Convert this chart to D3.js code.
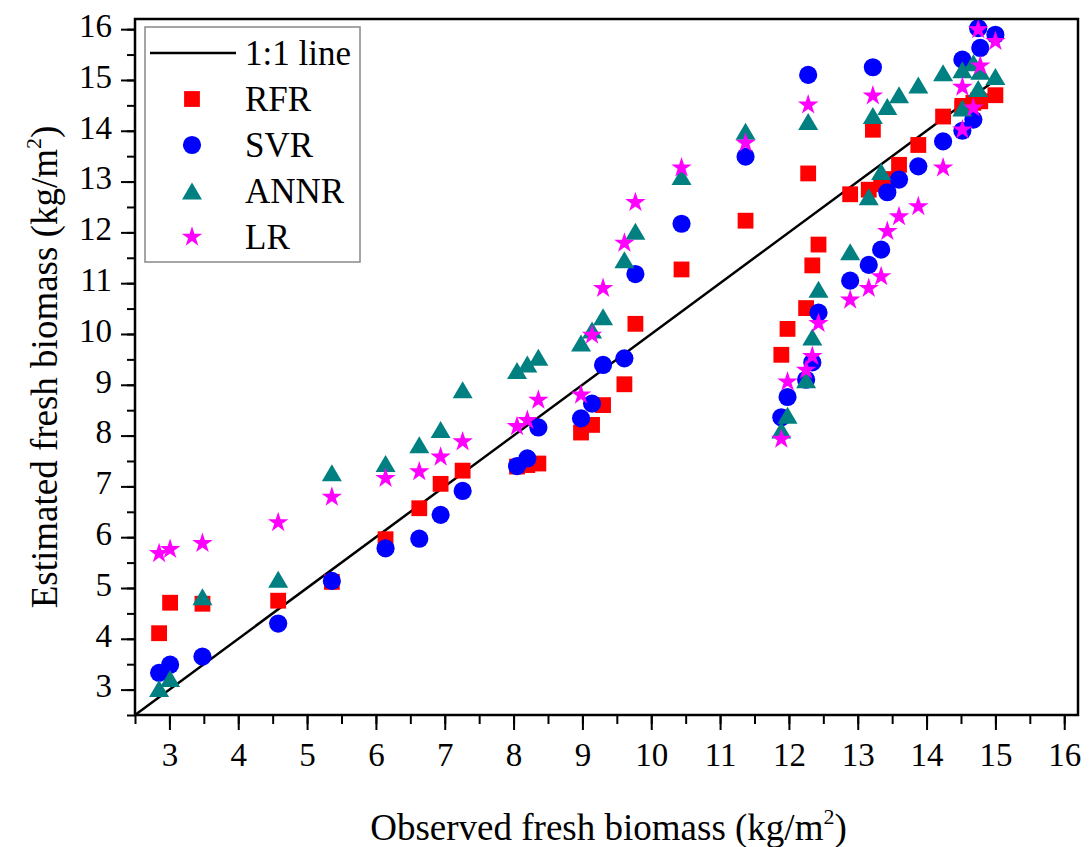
<!DOCTYPE html>
<html>
<head>
<meta charset="utf-8">
<script src="https://cdn.jsdelivr.net/npm/d3@7"></script>
<style>
  body { margin: 0; background: #fff; }
</style>
</head>
<body>
<div id="chart"></div>
<script>
// observed values (shared by all models)
const observed = [2.85, 3.01, 3.48, 4.58, 5.36, 6.14, 6.63, 6.94, 7.26, 8.05, 8.2, 8.36, 8.98, 9.14, 9.3, 9.61, 9.77, 10.44, 11.37,
  11.89, 11.98, 12.25, 12.28, 12.34, 12.43, 12.89, 13.16, 13.22, 13.34, 13.43, 13.6, 13.88, 14.24, 14.52, 14.52, 14.68, 14.75, 14.78, 15.0];

const rfr = [4.11, 4.71, 4.69, 4.75, 5.12, 5.96, 6.57, 7.05, 7.31, 7.39, 7.42, 7.45, 8.06, 8.21, 8.6, 9.01, 10.2, 11.27, 12.23,
  9.59, 10.1, 10.51, 13.16, 11.35, 11.76, 12.75, 12.84, 14.02, 12.95, 13.05, 13.33, 13.72, 14.28, 14.49, 14.45, 14.55, 14.6, 14.58, 14.7];
const svr = [3.33, 3.49, 3.65, 4.3, 5.14, 5.78, 5.97, 6.44, 6.91, 7.4, 7.55, 8.16, 8.34, 8.63, 9.39, 9.52, 11.18, 12.17, 13.49,
  8.36, 8.76, 9.1, 15.1, 9.44, 10.42, 11.05, 11.36, 15.25, 11.66, 12.79, 13.04, 13.3, 13.79, 14.0, 15.4, 14.22, 16.02, 15.63, 15.89];
const annr = [3.02, 3.22, 4.83, 5.17, 7.27, 7.45, 7.82, 8.12, 8.9, 9.28, 9.41, 9.54, 9.82, 10.08, 10.34, 11.46, 12.02, 13.1, 13.99,
  8.11, 8.4, 9.1, 14.18, 9.94, 10.88, 11.62, 12.7, 14.3, 13.2, 14.48, 14.71, 14.9, 15.14, 14.45, 15.2, 15.34, 14.83, 15.17, 15.07];
const lr = [5.68, 5.76, 5.88, 6.29, 6.79, 7.16, 7.29, 7.58, 7.88, 8.18, 8.3, 8.7, 8.8, 9.98, 10.9, 11.79, 12.59, 13.27, 13.76,
  7.93, 9.06, 9.29, 14.51, 9.56, 10.21, 10.67, 10.9, 14.69, 11.13, 12.02, 12.31, 12.51, 13.27, 14.02, 14.86, 14.45, 15.99, 15.28, 15.76];

const majorTicks = d3.range(3, 17, 1);
const minorTicks = d3.range(2.5, 16.01, 0.5);
const lineExtent = [2.5, 15];

const width = 1091, height = 847;
const margin = { top: 19, right: 13, bottom: 132, left: 135 };
const serif = '"Liberation Serif", "Times New Roman", serif';

const x = d3.scaleLinear().domain([2.5, 16.2]).range([margin.left, width - margin.right]);
const y = d3.scaleLinear().domain([2.5, 16.2]).range([height - margin.bottom, margin.top]);

// custom triangle, centred on its bounding box
const triPath = "M0,-8.5L10,8.5L-10,8.5Z";
const shapes = {
  square: d3.symbol(d3.symbolSquare, 250)(),
  circle: d3.symbol(d3.symbolCircle, 260)(),
  triangle: triPath,
  star: d3.symbol(d3.symbolStar, 130)()
};

const series = [
  { name: "RFR", values: rfr, color: "#ff0000", shape: "square" },
  { name: "SVR", values: svr, color: "#0000ff", shape: "circle" },
  { name: "ANNR", values: annr, color: "#008080", shape: "triangle" },
  { name: "LR", values: lr, color: "#ff00ff", shape: "star" }
];

const svg = d3.select("#chart").append("svg")
  .attr("width", width)
  .attr("height", height)
  .style("font-family", serif);

// 1:1 line
svg.append("line")
  .attr("x1", x(lineExtent[0])).attr("y1", y(lineExtent[0]))
  .attr("x2", x(lineExtent[1])).attr("y2", y(lineExtent[1]))
  .attr("stroke", "#000").attr("stroke-width", 2.5);

// points
series.forEach(s => {
  svg.append("g")
    .selectAll("path")
    .data(observed.map((o, i) => [o, s.values[i]]))
    .join("path")
    .attr("d", shapes[s.shape])
    .attr("transform", d => `translate(${x(d[0])},${y(d[1])})`)
    .attr("fill", s.color);
});

// axes
const xMinor = svg.append("g")
  .attr("transform", `translate(0,${y(2.5)})`)
  .call(d3.axisBottom(x).tickValues(minorTicks).tickSize(9).tickFormat(""));
const xMajor = svg.append("g")
  .attr("transform", `translate(0,${y(2.5)})`)
  .call(d3.axisBottom(x).tickValues(majorTicks).tickSize(15).tickPadding(13).tickFormat(d3.format("d")));
const yMinor = svg.append("g")
  .attr("transform", `translate(${x(2.5)},0)`)
  .call(d3.axisLeft(y).tickValues(minorTicks).tickSize(8).tickFormat(""));
const yMajor = svg.append("g")
  .attr("transform", `translate(${x(2.5)},0)`)
  .call(d3.axisLeft(y).tickValues(majorTicks).tickSize(14).tickPadding(9).tickFormat(d3.format("d")));

[xMinor, xMajor, yMinor, yMajor].forEach(g => {
  g.attr("font-family", null);
  g.select(".domain").remove();
  g.selectAll(".tick line").attr("stroke", "#000").attr("stroke-width", 2);
  g.selectAll(".tick text")
    .attr("font-size", 33)
    .attr("fill", "#000");
});
yMajor.selectAll(".tick text").attr("dy", "0.22em");

// frame
svg.append("rect")
  .attr("x", x(2.5)).attr("y", y(16.2))
  .attr("width", x(16.2) - x(2.5)).attr("height", y(2.5) - y(16.2))
  .attr("fill", "none").attr("stroke", "#000").attr("stroke-width", 2.5);

// axis titles
const xTitle = svg.append("text")
  .attr("x", (x(2.5) + x(16.2)) / 2 + 2)
  .attr("y", 840)
  .attr("text-anchor", "middle")
  .attr("font-size", 37);
xTitle.append("tspan").text("Observed fresh biomass (kg/m");
xTitle.append("tspan").attr("font-size", 22).attr("dy", -16).text("2");
xTitle.append("tspan").attr("dy", 16).text(")");

const yTitle = svg.append("text")
  .attr("transform", `translate(57,${(y(2.5) + y(16.2)) / 2}) rotate(-90)`)
  .attr("text-anchor", "middle")
  .attr("font-size", 37);
yTitle.append("tspan").text("Estimated fresh biomass (kg/m");
yTitle.append("tspan").attr("font-size", 22).attr("dy", -16).text("2");
yTitle.append("tspan").attr("dy", 16).text(")");

// legend
const legend = svg.append("g");
legend.append("rect")
  .attr("x", 145).attr("y", 27).attr("width", 215).attr("height", 235)
  .attr("fill", "#fff").attr("stroke", "#888").attr("stroke-width", 1.5);

const legendItems = [{ name: "1:1 line", shape: "line" }].concat(series);
legendItems.forEach((s, i) => {
  const cy = 53 + i * 46;
  if (s.shape === "line") {
    legend.append("line")
      .attr("x1", 150).attr("x2", 236).attr("y1", cy).attr("y2", cy)
      .attr("stroke", "#000").attr("stroke-width", 2.5);
  } else {
    legend.append("path")
      .attr("d", shapes[s.shape])
      .attr("transform", `translate(192,${cy})`)
      .attr("fill", s.color);
  }
  legend.append("text")
    .attr("x", 245).attr("y", cy + 12)
    .attr("font-size", 35)
    .text(s.name);
});
</script>
</body>
</html>
